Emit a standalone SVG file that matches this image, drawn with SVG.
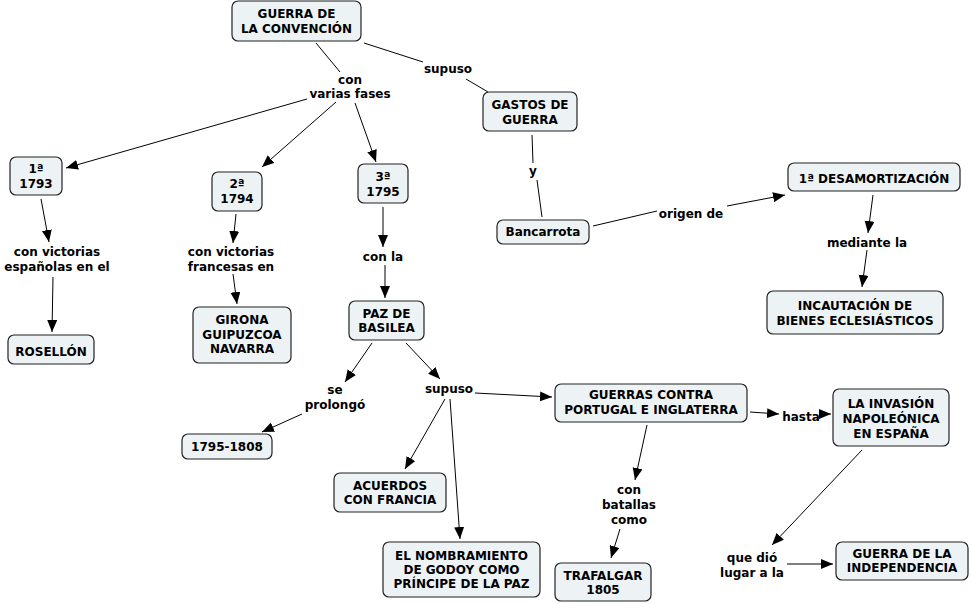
<svg xmlns="http://www.w3.org/2000/svg" width="971" height="604" viewBox="0 0 971 604">
<style>
.n rect{fill:#edf3f5;stroke:#222;stroke-width:1.2}
text{font-family:"DejaVu Sans",Verdana,sans-serif;font-weight:bold;font-size:12px;fill:#000;text-anchor:middle}
.c line{stroke:#000;stroke-width:1}
.a{marker-end:url(#ar)}
</style>
<defs>
<marker id="ar" markerUnits="userSpaceOnUse" markerWidth="13" markerHeight="11" refX="12" refY="5" orient="auto">
<path d="M0,0 L12,5 L0,10 z" fill="#000"/>
</marker>
</defs>
<rect width="971" height="604" fill="#fff"/>
<g class="c" id="connectors">
<line x1="316" y1="43" x2="340" y2="72"/>
<line x1="364" y1="43" x2="423" y2="62"/>
<line x1="466" y1="79" x2="488" y2="92"/>
<line class="a" x1="307" y1="99" x2="66" y2="168"/>
<line class="a" x1="336" y1="102" x2="262" y2="167"/>
<line class="a" x1="355" y1="103" x2="376" y2="162"/>
<line class="a" x1="41" y1="199" x2="49" y2="242"/>
<line class="a" x1="53" y1="277" x2="52" y2="332"/>
<line class="a" x1="236" y1="214" x2="233" y2="243"/>
<line class="a" x1="233" y1="274" x2="237" y2="304"/>
<line class="a" x1="383" y1="207" x2="383" y2="247"/>
<line class="a" x1="385" y1="265" x2="385" y2="298"/>
<line class="a" x1="372" y1="343" x2="345" y2="382"/>
<line class="a" x1="406" y1="343" x2="440" y2="379"/>
<line class="a" x1="302" y1="414" x2="262" y2="432"/>
<line class="a" x1="445" y1="399" x2="405" y2="469"/>
<line class="a" x1="450" y1="399" x2="460" y2="539"/>
<line class="a" x1="475" y1="393" x2="552" y2="397"/>
<line class="a" x1="750" y1="412" x2="779" y2="414"/>
<line class="a" x1="819" y1="414" x2="831" y2="414"/>
<line class="a" x1="647" y1="425" x2="635" y2="480"/>
<line class="a" x1="620" y1="529" x2="611" y2="558"/>
<line class="a" x1="862" y1="450" x2="772" y2="545"/>
<line class="a" x1="787" y1="564" x2="833" y2="564"/>
<line x1="532" y1="135" x2="533" y2="163"/>
<line x1="537" y1="180" x2="542" y2="217"/>
<line x1="593" y1="226" x2="657" y2="211"/>
<line class="a" x1="727" y1="206" x2="785" y2="195"/>
<line class="a" x1="873" y1="195" x2="868" y2="233"/>
<line class="a" x1="867" y1="250" x2="862" y2="287"/>
</g>
<g id="labels">
<text x="350" y="84">con</text><text x="350" y="98">varias fases</text>
<text x="448" y="73">supuso</text>
<text x="533" y="175">y</text>
<text x="691" y="218">origen de</text>
<text x="867" y="247">mediante la</text>
<text x="57" y="256">con victorias</text><text x="57" y="271">españolas en el</text>
<text x="231" y="256">con victorias</text><text x="231" y="271">francesas en</text>
<text x="383" y="261">con la</text>
<text x="335" y="394">se</text><text x="335" y="409">prolongó</text>
<text x="449" y="393">supuso</text>
<text x="801" y="421">hasta</text>
<text x="629" y="494">con</text><text x="629" y="509">batallas</text><text x="629" y="524">como</text>
<text x="752" y="562">que dió</text><text x="752" y="577">lugar a la</text>
</g>
<g class="n" id="n-guerra-convencion"><rect x="232" y="1" width="129" height="40" rx="6"/><text x="296.5" y="18">GUERRA DE</text><text x="296.5" y="33">LA CONVENCIÓN</text></g>
<g class="n" id="n-gastos"><rect x="483" y="92" width="94" height="39" rx="6"/><text x="530" y="109">GASTOS DE</text><text x="530" y="124">GUERRA</text></g>
<g class="n" id="n-bancarrota"><rect x="497" y="220" width="92" height="24" rx="6"/><text x="543" y="236">Bancarrota</text></g>
<g class="n" id="n-desamortizacion"><rect x="788" y="163" width="172" height="28" rx="6"/><text x="874" y="183">1ª DESAMORTIZACIÓN</text></g>
<g class="n" id="n-incautacion"><rect x="767" y="291" width="176" height="43" rx="6"/><text x="855" y="310">INCAUTACIÓN DE</text><text x="855" y="325">BIENES ECLESIÁSTICOS</text></g>
<g class="n" id="n-1793"><rect x="10" y="157" width="52" height="38" rx="6"/><text x="36" y="173">1ª</text><text x="36" y="188">1793</text></g>
<g class="n" id="n-1794"><rect x="212" y="172" width="50" height="39" rx="6"/><text x="237" y="188">2ª</text><text x="237" y="203">1794</text></g>
<g class="n" id="n-1795"><rect x="358" y="164" width="50" height="39" rx="6"/><text x="383" y="181">3ª</text><text x="383" y="196">1795</text></g>
<g class="n" id="n-rosellon"><rect x="8" y="335" width="86" height="29" rx="6"/><text x="51" y="356">ROSELLÓN</text></g>
<g class="n" id="n-girona"><rect x="193" y="307" width="98" height="56" rx="6"/><text x="242" y="324">GIRONA</text><text x="242" y="339">GUIPUZCOA</text><text x="242" y="353">NAVARRA</text></g>
<g class="n" id="n-paz"><rect x="349" y="301" width="75" height="39" rx="6"/><text x="386.5" y="318">PAZ DE</text><text x="386.5" y="332">BASILEA</text></g>
<g class="n" id="n-1795-1808"><rect x="182" y="434" width="90" height="25" rx="6"/><text x="227" y="451">1795-1808</text></g>
<g class="n" id="n-acuerdos"><rect x="334" y="473" width="112" height="39" rx="6"/><text x="390" y="490">ACUERDOS</text><text x="390" y="504">CON FRANCIA</text></g>
<g class="n" id="n-godoy"><rect x="383" y="542" width="157" height="55" rx="6"/><text x="461.5" y="560">EL NOMBRAMIENTO</text><text x="461.5" y="574">DE GODOY COMO</text><text x="461.5" y="588">PRÍNCIPE DE LA PAZ</text></g>
<g class="n" id="n-guerras-contra"><rect x="555" y="384" width="192" height="38" rx="6"/><text x="651" y="399">GUERRAS CONTRA</text><text x="651" y="414">PORTUGAL E INGLATERRA</text></g>
<g class="n" id="n-invasion"><rect x="833" y="389" width="116" height="57" rx="6"/><text x="891" y="408">LA INVASIÓN</text><text x="891" y="423">NAPOLEÓNICA</text><text x="891" y="438">EN ESPAÑA</text></g>
<g class="n" id="n-trafalgar"><rect x="555" y="563" width="96" height="38" rx="6"/><text x="603" y="580">TRAFALGAR</text><text x="603" y="594">1805</text></g>
<g class="n" id="n-independencia"><rect x="836" y="542" width="132" height="38" rx="6"/><text x="902" y="558">GUERRA DE LA</text><text x="902" y="572">INDEPENDENCIA</text></g>
</svg>
